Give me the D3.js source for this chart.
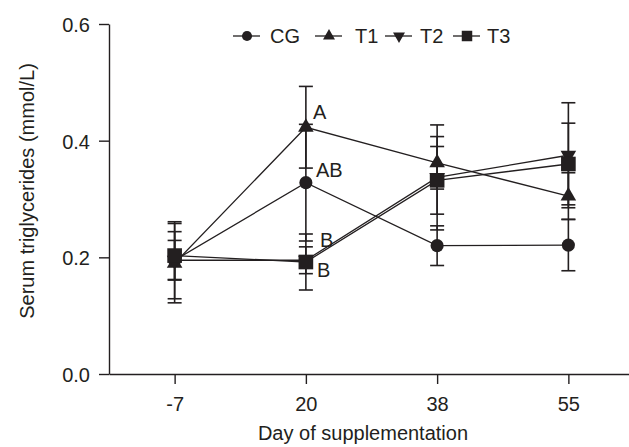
<!DOCTYPE html>
<html lang="en">
<head>
<meta charset="UTF-8">
<title>Serum triglycerides</title>
<script src="https://cdn.jsdelivr.net/npm/d3@7"></script>
<style>
	body { margin: 0; background: #fff; }
	svg { display: block; }
	text { font-family: "Liberation Sans", Arial, sans-serif; fill: #231f20; }
	.axis path, .axis line { stroke: #231f20; stroke-width: 1.4px; }
	.axis text { font-size: 20px; }
</style>
</head>
<body>
<script>
	// data (mean and error bar half-length)
	var days = ['-7', '20', '38', '55'];
	var groups = ['CG', 'T1', 'T2', 'T3'];
	var yTicks = [0, 0.2, 0.4, 0.6];

	var cgMean = [0.195, 0.328, 0.220, 0.221];
	var cgErr  = [0.034, 0.100, 0.034, 0.044];
	var t1Mean = [0.190, 0.423, 0.362, 0.305];
	var t1Err  = [0.068, 0.070, 0.045, 0.040];
	var t2Mean = [0.195, 0.195, 0.337, 0.375];
	var t2Err  = [0.066, 0.023, 0.090, 0.090];
	var t3Mean = [0.203, 0.192, 0.332, 0.360];
	var t3Err  = [0.041, 0.048, 0.058, 0.070];

	// significance letters at day 20
	var letters = ['A', 'AB', 'B', 'B'];
	var letterValues = [0.438, 0.338, 0.218, 0.167];

	var width = 629, height = 447;

	var svg = d3.select('body').append('svg')
		.attr('width', width)
		.attr('height', height);

	var x = d3.scalePoint()
		.domain(days)
		.range([109, 634])
		.padding(0.5);

	var y = d3.scaleLinear()
		.domain([0, 0.6])
		.range([374, 24]);

	var means = [cgMean, t1Mean, t2Mean, t3Mean];
	var errs = [cgErr, t1Err, t2Err, t3Err];
	var shapes = [d3.symbolCircle, d3.symbolTriangle, d3.symbolTriangle, d3.symbolSquare];
	var sizes = [135, 105, 105, 215];
	var legendSizes = [80, 62, 62, 110];
	var rotations = [0, 0, 180, 0];

	var series = groups.map(function (g, i) {
		return {
			name: g,
			shape: shapes[i],
			size: sizes[i],
			legendSize: legendSizes[i],
			rot: rotations[i],
			values: days.map(function (d, j) {
				return { day: d, mean: means[i][j], err: errs[i][j] };
			})
		};
	});

	// axes
	var xAxis = svg.append('g')
		.attr('class', 'axis')
		.attr('transform', 'translate(0,' + y(0) + ')')
		.call(d3.axisBottom(x).tickSize(10).tickSizeOuter(0));
	xAxis.selectAll('text').attr('y', 36.5).attr('dy', 0);

	var yAxis = svg.append('g')
		.attr('class', 'axis')
		.attr('transform', 'translate(109,0)')
		.call(d3.axisLeft(y).tickValues(yTicks).tickFormat(d3.format('.1f')).tickSize(10).tickPadding(9).tickSizeOuter(0));
	yAxis.selectAll('text').attr('dy', '0.37em');

	svg.append('text')
		.attr('x', 363)
		.attr('y', 440)
		.attr('text-anchor', 'middle')
		.style('font-size', '20px')
		.text('Day of supplementation');

	svg.append('text')
		.attr('transform', 'translate(33.5,191) rotate(-90)')
		.attr('text-anchor', 'middle')
		.style('font-size', '20px')
		.text('Serum triglycerides (mmol/L)');

	// error bars
	var capW = 7;
	series.forEach(function (s) {
		var g = svg.append('g').attr('class', 'err');
		s.values.forEach(function (v) {
			var cx = x(v.day);
			g.append('line')
				.attr('x1', cx).attr('x2', cx)
				.attr('y1', y(v.mean + v.err)).attr('y2', y(v.mean - v.err));
			[v.mean + v.err, v.mean - v.err].forEach(function (e) {
				g.append('line')
					.attr('x1', cx - capW).attr('x2', cx + capW)
					.attr('y1', y(e)).attr('y2', y(e));
			});
		});
		g.selectAll('line').style('stroke', '#231f20').style('stroke-width', 1.6);
	});

	// lines
	var line = d3.line()
		.x(function (d) { return x(d.day); })
		.y(function (d) { return y(d.mean); });

	series.forEach(function (s) {
		svg.append('path')
			.datum(s.values)
			.attr('d', line)
			.style('fill', 'none')
			.style('stroke', '#231f20')
			.style('stroke-width', 1.3);
	});

	// markers
	series.forEach(function (s) {
		svg.append('g').selectAll('path')
			.data(s.values)
			.enter()
			.append('path')
			.attr('d', d3.symbol().type(s.shape).size(s.size))
			.attr('transform', function (d) {
				return 'translate(' + x(d.day) + ',' + y(d.mean) + ') rotate(' + s.rot + ')';
			})
			.style('fill', '#231f20');
	});

	// letters next to day 20
	var letterDx = [7, 10, 14, 11];
	svg.selectAll('.letter')
		.data(letters)
		.enter()
		.append('text')
		.attr('class', 'letter')
		.attr('x', function (d, i) { return x('20') + letterDx[i]; })
		.attr('y', function (d, i) { return y(letterValues[i]); })
		.style('font-size', '20px')
		.text(function (d) { return d; });

	// legend
	var legendX = [233, 315, 385, 453];
	var legendTextX = [270, 355, 420, 487];
	var legend = svg.selectAll('.legend')
		.data(series)
		.enter()
		.append('g')
		.attr('class', 'legend')
		.attr('transform', function (d, i) { return 'translate(' + legendX[i] + ',36)'; });

	legend.append('line')
		.attr('x1', 0).attr('x2', 27)
		.style('stroke', '#231f20')
		.style('stroke-width', 1.3);

	legend.append('path')
		.attr('d', function (d) { return d3.symbol().type(d.shape).size(d.legendSize)(); })
		.attr('transform', function (d) { return 'translate(14,0) rotate(' + d.rot + ')'; })
		.style('fill', '#231f20');

	legend.append('text')
		.attr('x', function (d, i) { return legendTextX[i] - legendX[i]; })
		.attr('y', 7)
		.style('font-size', '20px')
		.text(function (d) { return d.name; });
</script>
</body>
</html>
